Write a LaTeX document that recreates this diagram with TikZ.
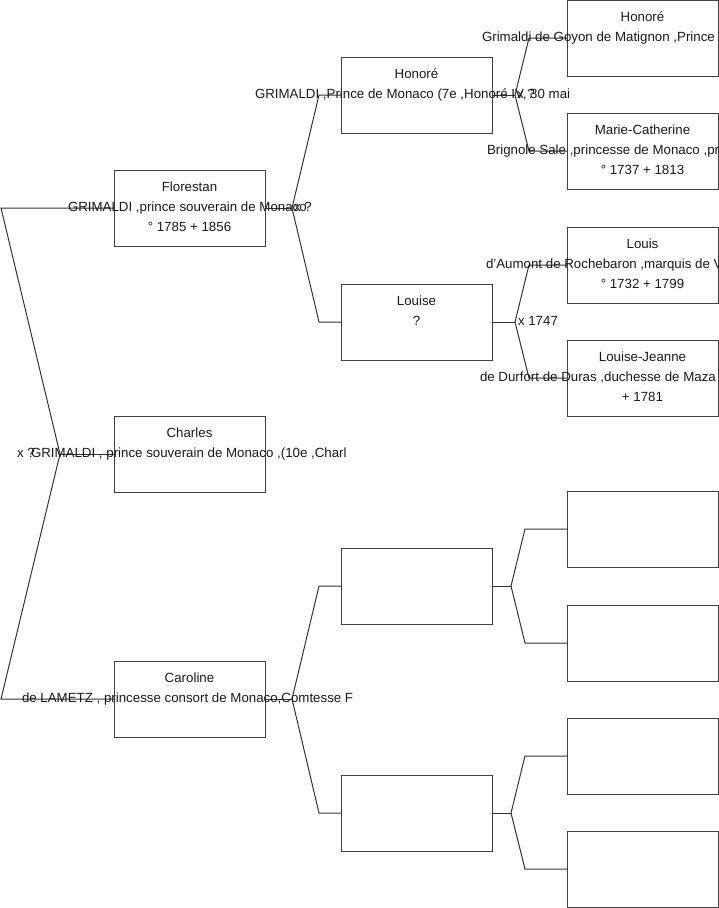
\documentclass[tikz,border=0pt]{standalone}
\usepackage{fontspec}
\setmainfont{Liberation Sans}
\usetikzlibrary{calc}
\begin{document}
\begin{tikzpicture}[x=1pt,y=-1pt,
  box/.style={draw=black!75, line width=1pt, minimum width=151pt, minimum height=76pt, inner sep=0pt, outer sep=0pt},
  txt/.style={inner sep=0pt, outer sep=0pt, anchor=base, font=\fontsize{13.3}{15}\selectfont, text=black!90},
  wtxt/.style={txt, anchor=base west},
  link/.style={draw=black!80, line width=1pt}]
\useasboundingbox (0,0) rectangle (719,908);
\clip (0,0) rectangle (719,908);

% generation 1
\node[box] (flo) at (189.5,208) {};
\node[box] (cha) at (189.5,454) {};
\node[box] (car) at (189.5,699) {};
% generation 2
\node[box] (hon) at (416.5,95) {};
\node[box] (lou) at (416.5,322) {};
\node[box] (ea) at (416.5,586) {};
\node[box] (eb) at (416.5,813) {};
% generation 3
\node[box] (hon3) at (642.5,38) {};
\node[box] (mca) at (642.5,151) {};
\node[box] (lui) at (642.5,265) {};
\node[box] (lje) at (642.5,378) {};
\node[box] (e1) at (642.5,529) {};
\node[box] (e2) at (642.5,643) {};
\node[box] (e3) at (642.5,756) {};
\node[box] (e4) at (642.5,869) {};

% connectors
\coordinate (t0) at (1,208);
\coordinate (v0) at (60,454);
\coordinate (b0) at (1,699);
\draw[link] (flo.west) -- (t0) -- (v0) -- (b0) -- (car.west);
\draw[link] (v0) -- (cha.west);

\coordinate (v1) at (292,208);
\draw[link] (flo.east) -- (v1);
\draw[link] (hon.west) -- ++(-22,0) -- (v1) -- ($(lou.west)+(-22,0)$) -- (lou.west);

\coordinate (v2) at (292,699);
\draw[link] (car.east) -- (v2);
\draw[link] (ea.west) -- ++(-22,0) -- (v2) -- ($(eb.west)+(-22,0)$) -- (eb.west);

\coordinate (v3) at (515,95);
\draw[link] (hon.east) -- (v3);
\draw[link] (hon3.west) -- ++(-38,0) -- (v3) -- ($(mca.west)+(-38,0)$) -- (mca.west);

\coordinate (v4) at (515,322);
\draw[link] (lou.east) -- (v4);
\draw[link] (lui.west) -- ++(-38,0) -- (v4) -- ($(lje.west)+(-38,0)$) -- (lje.west);

\coordinate (v5) at (511,586);
\draw[link] (ea.east) -- (v5);
\draw[link] (e1.west) -- ++(-42,0) -- (v5) -- ($(e2.west)+(-42,0)$) -- (e2.west);

\coordinate (v6) at (511,813);
\draw[link] (eb.east) -- (v6);
\draw[link] (e3.west) -- ++(-42,0) -- (v6) -- ($(e4.west)+(-42,0)$) -- (e4.west);

% texts generation 1
\node[txt] (flo1) at (189.5,191.5) {Florestan};
\node[wtxt] (flo2) at (68,211.5) {GRIMALDI ,prince souverain de Monaco};
\node[txt] (flo3) at (189.5,231.5) {° 1785 + 1856};
\node[txt] (cha1) at (189.5,437.5) {Charles};
\node[wtxt] (cha2) at (31,457.5) {GRIMALDI , prince souverain de Monaco ,(10e ,Charl};
\node[txt] (car1) at (189.5,682.5) {Caroline};
\node[wtxt] (car2) at (22,702.5) {de LAMETZ , princesse consort de Monaco,Comtesse F};
% texts generation 2
\node[txt] (hon1) at (416.5,78.5) {Honoré};
\node[wtxt] (hon2) at (255,98.5) {GRIMALDI ,Prince de Monaco (7e ,Honoré IV, 30 mai};
\node[txt] (lou1) at (416.5,305.5) {Louise};
\node[txt] (lou2) at (416.5,325.5) {?};
% texts generation 3
\node[txt] (h31) at (642.5,21.5) {Honoré};
\node[wtxt] (h32) at (482,41.5) {Grimaldi de Goyon de Matignon ,Prince};
\node[txt] (mc1) at (642.5,134.5) {Marie-Catherine};
\node[wtxt] (mc2) at (487,154.5) {Brignole Sale ,princesse de Monaco ,pr};
\node[txt] (mc3) at (642.5,174.5) {° 1737 + 1813};
\node[txt] (lu1) at (642.5,248.5) {Louis};
\node[wtxt] (lu2) at (486,268.5) {d'Aumont de Rochebaron ,marquis de V};
\node[txt] (lu3) at (642.5,288.5) {° 1732 + 1799};
\node[txt] (lj1) at (642.5,361.5) {Louise-Jeanne};
\node[wtxt] (lj2) at (480,381.5) {de Durfort de Duras ,duchesse de Maza};
\node[txt] (lj3) at (642.5,401.5) {+ 1781};
% marriage labels
\node[wtxt] (m0) at (17,457.5) {x ?};
\node[wtxt] (m1) at (294,211.5) {x ?};
\node[wtxt] (m3) at (517,98.5) {x ?};
\node[wtxt] (m4) at (518,325.5) {x 1747};
\end{tikzpicture}
\end{document}
